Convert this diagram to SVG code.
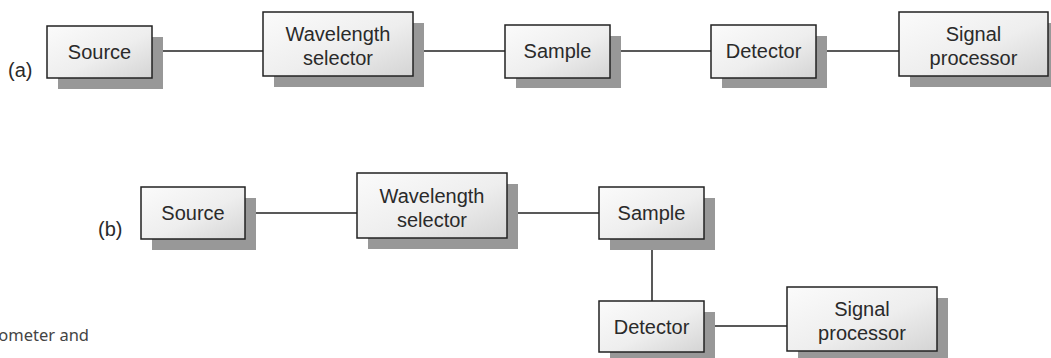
<svg xmlns="http://www.w3.org/2000/svg" width="1051" height="358" viewBox="0 0 1051 358">
<defs>
<linearGradient id="g" x1="0" y1="0" x2="1" y2="1">
<stop offset="0" stop-color="#fbfbfb"/>
<stop offset="0.55" stop-color="#eeeeee"/>
<stop offset="1" stop-color="#d4d4d4"/>
</linearGradient>
</defs>
<style>
.sh{fill:#989898}
.bx{fill:url(#g);stroke:#222;stroke-width:1.5}
.t{font-family:"Liberation Sans",Arial,sans-serif;font-size:20px;fill:#2a2a2a;text-anchor:middle}
.lb{font-family:"Liberation Sans",Arial,sans-serif;font-size:20px;fill:#2a2a2a}
.cn{stroke:#222;stroke-width:1.5;fill:none}
.cap{font-family:"Noto Sans","Open Sans",sans-serif;font-size:16.5px;fill:#444;text-anchor:end}
</style>
<g id="connectors">
<line class="cn" x1="163" y1="51" x2="263" y2="51"/>
<line class="cn" x1="424" y1="51" x2="505" y2="51"/>
<line class="cn" x1="621" y1="51" x2="711" y2="51"/>
<line class="cn" x1="827" y1="51" x2="899" y2="51"/>
<line class="cn" x1="256" y1="213" x2="357" y2="213"/>
<line class="cn" x1="518" y1="213" x2="599" y2="213"/>
<line class="cn" x1="652" y1="250" x2="652" y2="301"/>
<line class="cn" x1="715" y1="326" x2="787" y2="326"/>
</g>
<text class="lb" x="8" y="77">(a)</text>
<text class="lb" x="98" y="236">(b)</text>
<g id="a-source">
<rect class="sh" x="58" y="37" width="105" height="52"/>
<rect class="bx" x="47" y="26" width="105" height="52"/>
<text class="t" x="99.5" y="59">Source</text>
</g>
<g id="a-wavelength">
<rect class="sh" x="274" y="23" width="150" height="64"/>
<rect class="bx" x="263" y="12" width="150" height="64"/>
<text class="t" x="338" y="41">Wavelength</text>
<text class="t" x="338" y="65">selector</text>
</g>
<g id="a-sample">
<rect class="sh" x="516" y="36" width="105" height="52"/>
<rect class="bx" x="505" y="25" width="105" height="53"/>
<text class="t" x="557.5" y="58">Sample</text>
</g>
<g id="a-detector">
<rect class="sh" x="722" y="36" width="105" height="52"/>
<rect class="bx" x="711" y="25" width="105" height="53"/>
<text class="t" x="763.5" y="58">Detector</text>
</g>
<g id="a-signal">
<rect class="sh" x="910" y="23" width="150" height="64"/>
<rect class="bx" x="899" y="12" width="149" height="64"/>
<text class="t" x="973.5" y="41">Signal</text>
<text class="t" x="973.5" y="65">processor</text>
</g>
<g id="b-source">
<rect class="sh" x="152" y="198" width="104" height="52"/>
<rect class="bx" x="141" y="187" width="104" height="52"/>
<text class="t" x="193" y="220">Source</text>
</g>
<g id="b-wavelength">
<rect class="sh" x="368" y="184" width="150" height="65"/>
<rect class="bx" x="357" y="173" width="150" height="65"/>
<text class="t" x="432" y="203">Wavelength</text>
<text class="t" x="432" y="227">selector</text>
</g>
<g id="b-sample">
<rect class="sh" x="610" y="198" width="105" height="52"/>
<rect class="bx" x="599" y="187" width="105" height="52"/>
<text class="t" x="651.5" y="220">Sample</text>
</g>
<g id="b-detector">
<rect class="sh" x="610" y="312" width="105" height="51"/>
<rect class="bx" x="599" y="301" width="105" height="51"/>
<text class="t" x="651.5" y="334">Detector</text>
</g>
<g id="b-signal">
<rect class="sh" x="798" y="298" width="150" height="64"/>
<rect class="bx" x="787" y="287" width="150" height="64"/>
<text class="t" x="862" y="316">Signal</text>
<text class="t" x="862" y="340">processor</text>
</g>
<text class="cap" x="89" y="341">ometer and</text>
</svg>
